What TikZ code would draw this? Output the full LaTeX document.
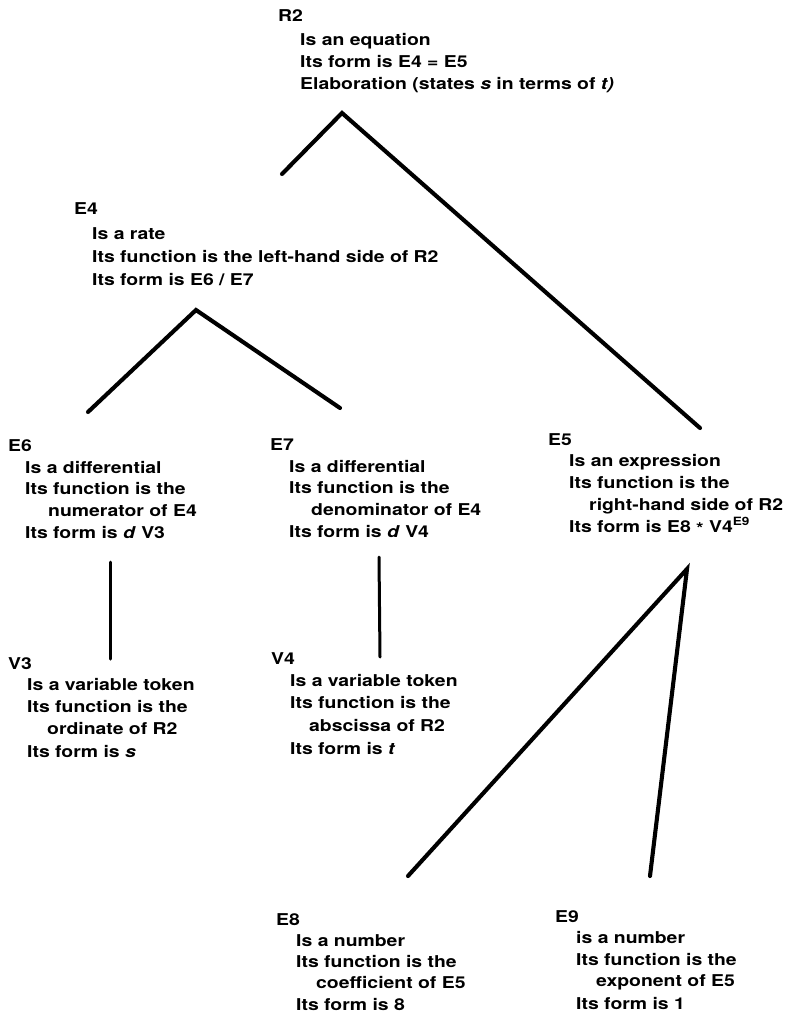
\documentclass[tikz,border=0pt]{standalone}
\usepackage{fontspec}
\setmainfont{TeX Gyre Heros}[FakeStretch=1.19]
\begin{document}
\begin{tikzpicture}[x=1pt,y=-1pt,
  lbl/.style={anchor=base west, inner sep=0pt, font=\fontsize{16.3}{20}\bfseries\selectfont},
  branch/.style={line width=4.1pt, line cap=round, line join=miter},
  stem/.style={line width=3pt, line cap=round}]
\useasboundingbox (0,0) rectangle (789,1020);

% ---- R2 ----
\node[lbl] (r2)  at (278,21) {R2};
\node[lbl] (r2a) at (300,45) {Is an equation};
\node[lbl] (r2b) at (300,67) {Its form is E4 = E5};
\node[lbl] (r2c) at (300,89) {Elaboration (states \textit{s} in terms of \textit{t)}};

% ---- E4 ----
\node[lbl] (e4)  at (74,214) {E4};
\node[lbl] (e4a) at (92,239) {Is a rate};
\node[lbl] (e4b) at (92,262) {Its function is the left-hand side of R2};
\node[lbl] (e4c) at (92,285) {Its form is E6 / E7};

% ---- E6 ----
\node[lbl] (e6)  at (8,451)  {E6};
\node[lbl] (e6a) at (25,473) {Is a differential};
\node[lbl] (e6b) at (25,494) {Its function is the};
\node[lbl] (e6c) at (48,516) {numerator of E4};
\node[lbl] (e6d) at (25,538) {Its form is \textit{d} V3};

% ---- E7 ----
\node[lbl] (e7)  at (270,450) {E7};
\node[lbl] (e7a) at (289,472) {Is a differential};
\node[lbl] (e7b) at (289,493) {Its function is the};
\node[lbl] (e7c) at (311,515) {denominator of E4};
\node[lbl] (e7d) at (289,537) {Its form is \textit{d} V4};

% ---- E5 ----
\node[lbl] (e5)  at (548,445) {E5};
\node[lbl] (e5a) at (569,466) {Is an expression};
\node[lbl] (e5b) at (569,488) {Its function is the};
\node[lbl] (e5c) at (589,510) {right-hand side of R2};
\node[lbl] (e5d) at (569,532) {Its form is E8 \raisebox{-0.3ex}{*} V4\textsuperscript{E9}};

% ---- V3 ----
\node[lbl] (v3)  at (8,669)  {V3};
\node[lbl] (v3a) at (27,690) {Is a variable token};
\node[lbl] (v3b) at (27,712) {Its function is the};
\node[lbl] (v3c) at (47,734) {ordinate of R2};
\node[lbl] (v3d) at (27,757) {Its form is \textit{s}};

% ---- V4 ----
\node[lbl] (v4)  at (271,664) {V4};
\node[lbl] (v4a) at (290,686) {Is a variable token};
\node[lbl] (v4b) at (290,708) {Its function is the};
\node[lbl] (v4c) at (309,731) {abscissa of R2};
\node[lbl] (v4d) at (290,754) {Its form is \textit{t}};

% ---- E8 ----
\node[lbl] (e8)  at (276,925) {E8};
\node[lbl] (e8a) at (296,946) {Is a number};
\node[lbl] (e8b) at (296,967) {Its function is the};
\node[lbl] (e8c) at (316,988) {coefficient of E5};
\node[lbl] (e8d) at (296,1010) {Its form is 8};

% ---- E9 ----
\node[lbl] (e9)  at (555,922) {E9};
\node[lbl] (e9a) at (576,943) {is a number};
\node[lbl] (e9b) at (576,965) {Its function is the};
\node[lbl] (e9c) at (596,986) {exponent of E5};
\node[lbl] (e9d) at (576,1009) {Its form is 1};

% ---- tree branches ----
\coordinate (r2top) at (342,113);
\coordinate (r2l)   at (282,174);
\coordinate (r2r)   at (700,428);
\coordinate (e4top) at (196,310);
\coordinate (e4l)   at (88,412);
\coordinate (e4r)   at (340,408);
\coordinate (e6top) at (110,562);
\coordinate (e6bot) at (110,659);
\coordinate (e7top) at (379,557);
\coordinate (e7bot) at (380,657);
\coordinate (e5top) at (687,569);
\coordinate (e5l)   at (408,876);
\coordinate (e5r)   at (650,876);

\draw[branch] (r2l) -- (r2top) -- (r2r);
\draw[branch] (e4l) -- (e4top) -- (e4r);
\draw[stem] (e6top) -- (e6bot);
\draw[stem] (e7top) -- (e7bot);
\draw[branch] (e5l) -- (e5top) -- (e5r);
\end{tikzpicture}
\end{document}
